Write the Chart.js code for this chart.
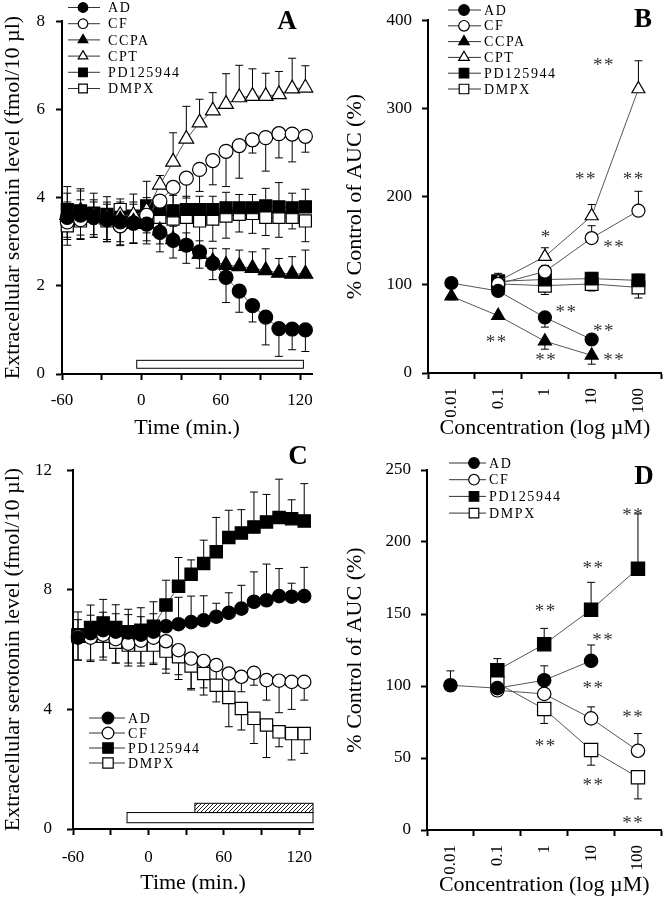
<!DOCTYPE html>
<html>
<head>
<meta charset="utf-8">
<script src="https://cdn.jsdelivr.net/npm/chart.js@4.4.1/dist/chart.umd.min.js"></script>
<style>
  body { margin: 0; background: #fff; }
  #wrap { position: relative; width: 672px; height: 899px; }
  canvas { position: absolute; }
</style>
</head>
<body>
<div id="wrap">
  <canvas id="chartA" width="336" height="445" style="left:0;top:0"></canvas>
  <canvas id="chartB" width="336" height="445" style="left:336px;top:0"></canvas>
  <canvas id="chartC" width="336" height="454" style="left:0;top:445px"></canvas>
  <canvas id="chartD" width="336" height="454" style="left:336px;top:445px"></canvas>
</div>
<script>
const SERIF = "'Liberation Serif', 'Times New Roman', serif";

// sampling times (min) for the two time-course panels
const times = [-56, -46, -36, -26, -16, -6, 4, 14, 24, 34, 44, 54, 64, 74, 84, 94, 104, 114, 124];

// panel A
const adA     = [3.55, 3.6, 3.55, 3.5, 3.45, 3.42, 3.4, 3.21, 3.03, 2.92, 2.77, 2.51, 2.19, 1.88, 1.55, 1.29, 1.03, 1.02, 1.0];
const adErrA  = [0.45, 0.45, 0.45, 0.45, 0.45, 0.45, 0.45, 0.44, 0.4, 0.41, 0.37, 0.37, 0.57, 0.48, 0.37, 0.63, 0.63, 0.47, 0.49];
const cfA     = [3.45, 3.5, 3.55, 3.5, 3.36, 3.42, 3.6, 3.92, 4.23, 4.44, 4.64, 4.84, 5.05, 5.18, 5.31, 5.36, 5.45, 5.44, 5.39];
const cfErrA  = [0.4, 0.45, 0.45, 0.5, 0.45, 0.45, 0.4, 0.3, 0.4, 0.45, 0.5, 0.55, 0.8, 0.74, 0.3, 0.76, 0.55, 0.63, 0.36];
const ccpaA   = [3.6, 3.7, 3.55, 3.5, 3.5, 3.45, 3.4, 3.25, 3.05, 2.9, 2.72, 2.55, 2.47, 2.44, 2.4, 2.35, 2.29, 2.27, 2.27];
const ccpaErrA = [0.5, 0.45, 0.4, 0.4, 0.35, 0.4, 0.4, 0.3, 0.3, 0.3, 0.3, 0.3, 0.37, 0.37, 0.37, 0.49, 0.33, 0.39, 0.54];
const cptA    = [3.6, 3.65, 3.6, 3.55, 3.6, 3.6, 3.7, 4.29, 4.81, 5.33, 5.7, 5.97, 6.12, 6.27, 6.3, 6.3, 6.34, 6.47, 6.49];
const cptErrA = [0.3, 0.3, 0.3, 0.3, 0.3, 0.3, 0.3, 0.21, 0.66, 0.74, 0.53, 0.41, 0.69, 0.73, 0.62, 0.52, 0.52, 0.69, 0.5];
const pdA     = [3.73, 3.7, 3.65, 3.62, 3.55, 3.58, 3.81, 3.73, 3.7, 3.73, 3.73, 3.73, 3.77, 3.77, 3.77, 3.81, 3.79, 3.77, 3.79];
const pdErrA  = [0.52, 0.5, 0.45, 0.4, 0.42, 0.5, 0.56, 0.3, 0.35, 0.3, 0.3, 0.3, 0.35, 0.3, 0.3, 0.4, 0.55, 0.33, 0.4];
const dmpxA   = [3.36, 3.47, 3.61, 3.47, 3.73, 3.44, 3.62, 3.55, 3.51, 3.55, 3.47, 3.51, 3.58, 3.62, 3.64, 3.55, 3.55, 3.55, 3.47];
const dmpxErrA = [0.44, 0.4, 0.45, 0.47, 0.8, 0.48, 0.6, 0.6, 0.5, 0.55, 0.6, 0.5, 0.5, 0.4, 0.45, 0.41, 0.45, 0.26, 0.47];

// panel C
const adC     = [6.4, 6.55, 6.65, 6.6, 6.57, 6.5, 6.6, 6.78, 6.85, 6.92, 6.98, 7.1, 7.23, 7.37, 7.6, 7.65, 7.79, 7.77, 7.79];
const adErrC  = [0.6, 0.6, 0.6, 0.6, 0.6, 0.6, 0.6, 0.87, 0.9, 0.87, 0.82, 0.45, 0.67, 0.78, 1.0, 1.21, 0.92, 0.45, 0.96];
const cfC     = [6.45, 6.4, 6.5, 6.35, 6.2, 6.3, 6.4, 6.28, 5.98, 5.7, 5.62, 5.48, 5.2, 5.09, 5.22, 4.98, 4.96, 4.92, 4.92];
const cfErrC  = [0.8, 0.8, 0.85, 0.8, 0.75, 0.85, 0.9, 1.07, 0.98, 1.05, 0.9, 0.6, 0.6, 0.5, 0.41, 0.67, 1.07, 0.92, 0.61];
const pdC     = [6.5, 6.74, 6.89, 6.74, 6.6, 6.65, 6.78, 7.49, 8.12, 8.52, 8.88, 9.27, 9.75, 9.9, 10.1, 10.27, 10.42, 10.38, 10.3];
const pdErrC  = [0.76, 0.75, 0.79, 0.76, 0.75, 0.75, 0.82, 0.83, 0.96, 0.48, 0.78, 1.15, 0.91, 0.78, 1.17, 0.92, 1.28, 0.63, 1.25];
const dmpxC   = [6.45, 6.45, 6.45, 6.25, 6.15, 6.15, 6.15, 5.95, 5.76, 5.45, 5.2, 4.81, 4.4, 4.03, 3.7, 3.48, 3.25, 3.19, 3.19];
const dmpxErrC = [0.8, 0.8, 0.7, 0.7, 0.6, 0.6, 0.6, 0.6, 0.6, 0.75, 0.72, 0.56, 0.98, 0.72, 0.84, 1.09, 0.5, 0.88, 0.66];

// dose-response panels
const concLabels = ['0.01', '0.1', '1', '10', '100'];

const adB     = [102, 93, 63, 38, null];
const adErrB  = [3, 4, 11, 5, null];
const cfB     = [null, 101, 115, 153, 184];
const cfErrB  = [null, 4, 7, 14, 22];
const ccpaB   = [87, 65, 36, 20, null];
const ccpaErrB = [4, 4, 9, 10, null];
const cptB    = [null, 104, 132, 178, 322];
const cptErrB = [null, 6, 10, 13, 32];
const pdB     = [null, 104, 106, 107, 105];
const pdErrB  = [null, 9, 4, 7, 7];
const dmpxB   = [null, 101, 99, 101, 97];
const dmpxErrB = [null, 5, 10, 8, 12];

const adD     = [100.5, 98.5, 104, 117.5, null];
const adErrD  = [10, 3, 10, 11, null];
const cfD     = [null, 97, 94.5, 77.5, 55];
const cfErrD  = [null, 2, 3, 8, 12];
const pdD     = [null, 111, 129, 153, 181.5];
const pdErrD  = [null, 8, 11, 19, 38];
const dmpxD   = [null, 102, 84, 55.6, 36.6];
const dmpxErrD = [null, 8, 10, 10.6, 15];

// significance marks (x = category index, y = % value)
const starsB = [
  {x: 3.24, y: 353, t: '**'}, {x: 2.86, y: 223, t: '**'}, {x: 3.88, y: 223, t: '**'},
  {x: 2.01, y: 158, t: '*'},  {x: 3.46, y: 146, t: '**'}, {x: 2.44, y: 73, t: '**'},
  {x: 3.24, y: 51, t: '**'},  {x: 0.95, y: 39, t: '**'},  {x: 2.01, y: 18, t: '**'},
  {x: 3.46, y: 18, t: '**'}
];
const starsD = [
  {x: 3.88, y: 221, t: '**'}, {x: 3.03, y: 184, t: '**'}, {x: 2.01, y: 154, t: '**'},
  {x: 3.24, y: 134, t: '**'}, {x: 3.03, y: 101, t: '**'}, {x: 3.88, y: 80.5, t: '**'},
  {x: 2.01, y: 60.4, t: '**'}, {x: 3.03, y: 33.6, t: '**'}, {x: 3.88, y: 7, t: '**'}
];

// treatment bars under the time courses
const treatA = [{x0: -3.5, x1: 122.5, y0: 0.13, y1: 0.31}];
const treatC = [{x0: -17, x1: 131, y0: 0.21, y1: 0.55}, {x0: 37, x1: 131, y0: 0.55, y1: 0.86, hatch: true}];

const marks = {
  'AD': ['circle', '#000'],
  'CF': ['circle', '#fff'],
  'CCPA': ['triangle', '#000'],
  'CPT': ['triangle', '#fff'],
  'PD125944': ['rect', '#000'],
  'DMPX': ['rect', '#fff']
};

function series(label, xs, ys, errs, dir, sizes) {
  const [shape, fill] = marks[label];
  const r = sizes[shape];
  return {
    label,
    data: xs ? ys.map((y, i) => ({x: xs[i], y})) : ys,
    errors: errs,
    errDir: dir,
    pointStyle: shape,
    pointRadius: r,
    pointHoverRadius: r,
    pointBackgroundColor: fill,
    pointBorderColor: '#000',
    pointBorderWidth: 1.2,
    borderColor: '#555',
    borderWidth: 1,
    tension: 0,
    fill: false,
    clip: false
  };
}

function drawMark(ctx, shape, fill, x, y, r) {
  ctx.beginPath();
  if (shape === 'circle') {
    ctx.arc(x, y, r, 0, Math.PI * 2);
  } else if (shape === 'rect') {
    const h = r * 0.9;
    ctx.rect(x - h, y - h, 2 * h, 2 * h);
  } else {
    const t = r * 1.15;
    ctx.moveTo(x, y - t);
    ctx.lineTo(x + t * 0.87, y + t * 0.5);
    ctx.lineTo(x - t * 0.87, y + t * 0.5);
    ctx.closePath();
  }
  ctx.fillStyle = fill;
  ctx.fill();
  ctx.strokeStyle = '#000';
  ctx.lineWidth = 1.2;
  ctx.stroke();
}

// vertical SEM bars, one direction per series
const errorBars = {
  id: 'errorBars',
  beforeDatasetsDraw(chart) {
    const ctx = chart.ctx;
    const yScale = chart.scales.y;
    ctx.save();
    ctx.strokeStyle = '#000';
    ctx.lineWidth = 1;
    chart.data.datasets.forEach((ds, i) => {
      if (!ds.errors) return;
      chart.getDatasetMeta(i).data.forEach((pt, j) => {
        const e = ds.errors[j];
        const raw = ds.data[j];
        const v = raw !== null && typeof raw === 'object' ? raw.y : raw;
        if (e == null || v == null || pt.skip) return;
        const y2 = yScale.getPixelForValue(v + ds.errDir * e);
        ctx.beginPath();
        ctx.moveTo(pt.x, pt.y);
        ctx.lineTo(pt.x, y2);
        ctx.moveTo(pt.x - 4, y2);
        ctx.lineTo(pt.x + 4, y2);
        ctx.stroke();
      });
    });
    ctx.restore();
  }
};

function sketchLegend(o) {
  return {
    id: 'sketchLegend',
    afterDraw(chart) {
      const ctx = chart.ctx;
      ctx.save();
      ctx.font = '14px ' + SERIF;
      ctx.letterSpacing = '1.6px';
      ctx.textBaseline = 'middle';
      chart.data.datasets.forEach((ds, i) => {
        const y = o.y + i * o.dy;
        ctx.strokeStyle = '#333';
        ctx.lineWidth = 1;
        ctx.beginPath();
        ctx.moveTo(o.x0, y);
        ctx.lineTo(o.x1, y);
        ctx.stroke();
        const [shape, fill] = marks[ds.label];
        drawMark(ctx, shape, fill, o.mx, y, o.r);
        ctx.fillStyle = '#000';
        ctx.fillText(ds.label, o.tx, y + 1);
      });
      ctx.restore();
    }
  };
}

function panelLetter(text, x, y) {
  return {
    id: 'panelLetter',
    afterDraw(chart) {
      const ctx = chart.ctx;
      ctx.save();
      ctx.font = 'bold 27px ' + SERIF;
      ctx.fillStyle = '#000';
      ctx.textAlign = 'center';
      ctx.textBaseline = 'middle';
      ctx.fillText(text, x, y);
      ctx.restore();
    }
  };
}

function starMarks(items) {
  return {
    id: 'starMarks',
    afterDatasetsDraw(chart) {
      const ctx = chart.ctx;
      const {x: xs, y: ys} = chart.scales;
      ctx.save();
      ctx.font = '19px ' + SERIF;
      ctx.letterSpacing = '1.5px';
      ctx.fillStyle = '#333';
      ctx.textAlign = 'center';
      ctx.textBaseline = 'middle';
      items.forEach(s => {
        ctx.fillText(s.t, xs.getPixelForValue(s.x) + 1, ys.getPixelForValue(s.y) + 4);
      });
      ctx.restore();
    }
  };
}

function treatBars(items) {
  return {
    id: 'treatBars',
    afterDatasetsDraw(chart) {
      const ctx = chart.ctx;
      const {x: xs, y: ys} = chart.scales;
      ctx.save();
      items.forEach(b => {
        const l = xs.getPixelForValue(b.x0), r = xs.getPixelForValue(b.x1);
        const t = ys.getPixelForValue(b.y1), btm = ys.getPixelForValue(b.y0);
        if (b.hatch) {
          const c = document.createElement('canvas');
          c.width = c.height = 4;
          const g = c.getContext('2d');
          g.strokeStyle = '#222';
          g.lineWidth = 1;
          g.beginPath();
          g.moveTo(0, 4); g.lineTo(4, 0);
          g.moveTo(-1, 1); g.lineTo(1, -1);
          g.moveTo(3, 5); g.lineTo(5, 3);
          g.stroke();
          ctx.fillStyle = ctx.createPattern(c, 'repeat');
        } else {
          ctx.fillStyle = '#fff';
        }
        ctx.fillRect(l, t, r - l, btm - t);
        ctx.strokeStyle = '#000';
        ctx.lineWidth = 1;
        ctx.strokeRect(l, t, r - l, btm - t);
      });
      ctx.restore();
    }
  };
}

const axisLook = {
  border: {color: '#000', width: 2},
  grid: {drawOnChartArea: false, color: '#000', tickColor: '#000', tickLength: 6, tickWidth: 2}
};

function timeScales(o) {
  return {
    x: {
      type: 'linear', min: -60, max: o.xmax,
      afterFit: s => { s.height = o.xh; },
      ...axisLook,
      ticks: {
        stepSize: 30, includeBounds: false, maxRotation: 0, autoSkip: false,
        padding: o.xpad, color: '#000', font: {family: SERIF, size: 17},
        callback: v => (v % 60 === 0 ? String(v) : '')
      },
      title: {display: true, text: 'Time (min.)', color: '#000',
        font: {family: SERIF, size: 22}, padding: {top: 0, bottom: o.xtpad}}
    },
    y: {
      min: 0, max: o.ymax,
      afterFit: s => { s.width = o.yw; },
      ...axisLook,
      ticks: {stepSize: o.ystep, padding: o.ypad, color: '#000', font: {family: SERIF, size: 17}},
      title: {display: true, text: 'Extracellular serotonin level (fmol/10 \u00b5l)', color: '#000',
        font: {family: SERIF, size: 22}, padding: {top: 0, bottom: 0}}
    }
  };
}

function doseScales(o) {
  return {
    x: {
      type: 'category', labels: concLabels, offset: true,
      afterFit: s => { s.height = o.xh; },
      border: axisLook.border,
      grid: {...axisLook.grid, offset: true},
      ticks: {minRotation: 90, maxRotation: 90, autoSkip: false, padding: o.xpad,
        color: '#000', font: {family: SERIF, size: 17}},
      title: {display: true, text: 'Concentration (log \u00b5M)', color: '#000',
        font: {family: SERIF, size: 22}, padding: {top: 0, bottom: o.xtpad}}
    },
    y: {
      min: 0, max: o.ymax,
      afterFit: s => { s.width = o.yw; },
      ...axisLook,
      ticks: {stepSize: o.ystep, padding: o.ypad, color: '#000', font: {family: SERIF, size: 17}},
      title: {display: true, text: '% Control of AUC (%)', color: '#000',
        font: {family: SERIF, size: 22}, padding: {top: 6, bottom: 0}}
    }
  };
}

function baseOptions(scales, pad) {
  return {
    responsive: false,
    animation: false,
    events: [],
    layout: {padding: pad},
    plugins: {legend: {display: false}, tooltip: {enabled: false}},
    scales
  };
}

Chart.defaults.font.family = SERIF;
Chart.defaults.color = '#000';

const sizeA = {circle: 7, triangle: 8.5, rect: 8.5};
new Chart(document.getElementById('chartA'), {
  type: 'line',
  data: {
    datasets: [
      series('AD', times, adA, adErrA, -1, sizeA),
      series('CF', times, cfA, cfErrA, -1, sizeA),
      series('CCPA', times, ccpaA, ccpaErrA, 1, sizeA),
      series('CPT', times, cptA, cptErrA, 1, sizeA),
      series('PD125944', times, pdA, pdErrA, 1, sizeA),
      series('DMPX', times, dmpxA, dmpxErrA, -1, sizeA)
    ]
  },
  options: baseOptions(
    timeScales({xmax: 129, xh: 71, xpad: 10, xtpad: 4, ymax: 8, ystep: 2, yw: 62, ypad: 11}),
    {left: 0, top: 14, right: 24, bottom: 0}),
  plugins: [errorBars, treatBars(treatA),
    sketchLegend({x0: 68, x1: 100, mx: 83, tx: 108, y: 7.5, dy: 16.2, r: 4.8}),
    panelLetter('A', 287, 22)]
});

const sizeB = {circle: 6.5, triangle: 7.5, rect: 9};
new Chart(document.getElementById('chartB'), {
  type: 'line',
  data: {
    labels: concLabels,
    datasets: [
      series('AD', null, adB, adErrB, -1, sizeB),
      series('CF', null, cfB, cfErrB, 1, sizeB),
      series('CCPA', null, ccpaB, ccpaErrB, -1, sizeB),
      series('CPT', null, cptB, cptErrB, 1, sizeB),
      series('PD125944', null, pdB, pdErrB, 1, sizeB),
      series('DMPX', null, dmpxB, dmpxErrB, -1, sizeB)
    ]
  },
  options: baseOptions(
    doseScales({xh: 72, xpad: 9, xtpad: 4, ymax: 400, ystep: 100, yw: 92, ypad: 10}),
    {left: 0, top: 15, right: 9, bottom: 0}),
  plugins: [errorBars, starMarks(starsB),
    sketchLegend({x0: 112, x1: 145, mx: 128, tx: 148, y: 10, dy: 15.8, r: 5.3}),
    panelLetter('B', 307, 20)]
});

const sizeC = {circle: 6.7, triangle: 8.5, rect: 8.7};
new Chart(document.getElementById('chartC'), {
  type: 'line',
  data: {
    datasets: [
      series('AD', times, adC, adErrC, 1, sizeC),
      series('CF', times, cfC, cfErrC, -1, sizeC),
      series('PD125944', times, pdC, pdErrC, 1, sizeC),
      series('DMPX', times, dmpxC, dmpxErrC, -1, sizeC)
    ]
  },
  options: baseOptions(
    timeScales({xmax: 131, xh: 70, xpad: 12, xtpad: 3, ymax: 12, ystep: 4, yw: 73, ypad: 15}),
    {left: 0, top: 25, right: 23, bottom: 0}),
  plugins: [errorBars, treatBars(treatC),
    sketchLegend({x0: 89, x1: 125, mx: 108, tx: 128, y: 273, dy: 15, r: 5.8}),
    panelLetter('C', 298, 12)]
});

const sizeD = {circle: 6.7, triangle: 8, rect: 9.4};
new Chart(document.getElementById('chartD'), {
  type: 'line',
  data: {
    labels: concLabels,
    datasets: [
      series('AD', null, adD, adErrD, 1, sizeD),
      series('CF', null, cfD, cfErrD, 1, sizeD),
      series('PD125944', null, pdD, pdErrD, 1, sizeD),
      series('DMPX', null, dmpxD, dmpxErrD, -1, sizeD)
    ]
  },
  options: baseOptions(
    doseScales({xh: 69, xpad: 9, xtpad: 1, ymax: 250, ystep: 50, yw: 91, ypad: 10}),
    {left: 0, top: 25, right: 9, bottom: 0}),
  plugins: [errorBars, starMarks(starsD),
    sketchLegend({x0: 113, x1: 150, mx: 138, tx: 153, y: 18, dy: 16.7, r: 5.3}),
    panelLetter('D', 308, 32)]
});
</script>
</body>
</html>
